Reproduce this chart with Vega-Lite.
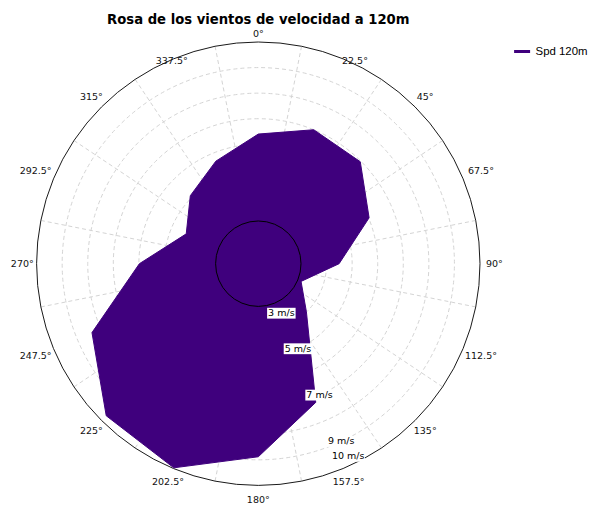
{
  "$schema": "https://vega.github.io/schema/vega-lite/v6.json",
  "autosize": {"type": "none"},
  "padding": {"left": 36.6, "top": 42, "right": 110, "bottom": 20.6},
  "width": 443.4,
  "height": 443.4,
  "background": "white",
  "config": {"view": {"stroke": null}},
  "title": {
    "text": "Rosa de los vientos de velocidad a 120m",
    "font": "DejaVu Sans",
    "fontSize": 13.2,
    "fontWeight": "bold",
    "color": "#000000",
    "anchor": "middle",
    "frame": "group",
    "baseline": "alphabetic",
    "offset": -8.7
  },
  "datasets": {
    "wind": [
      {"dir": 0, "spd": 6.40},
      {"dir": 22.5, "spd": 7.00},
      {"dir": 45, "spd": 6.97},
      {"dir": 67.5, "spd": 6.02},
      {"dir": 90, "spd": 4.49},
      {"dir": 112.5, "spd": 3.14},
      {"dir": 135, "spd": 3.99},
      {"dir": 157.5, "spd": 7.20},
      {"dir": 180, "spd": 8.88},
      {"dir": 202.5, "spd": 9.97},
      {"dir": 225, "spd": 9.74},
      {"dir": 247.5, "spd": 8.37},
      {"dir": 270, "spd": 5.98},
      {"dir": 292.5, "spd": 4.38},
      {"dir": 315, "spd": 5.09},
      {"dir": 337.5, "spd": 5.67}
    ],
    "rings": [{"v": 4}, {"v": 5}, {"v": 6}, {"v": 7}, {"v": 8}, {"v": 9}],
    "outer": [{"v": 10}],
    "inner": [{"v": 3}],
    "spokes": [
      {"a": 11.25}, {"a": 33.75}, {"a": 56.25}, {"a": 78.75},
      {"a": 101.25}, {"a": 123.75}, {"a": 146.25}, {"a": 168.75},
      {"a": 191.25}, {"a": 213.75}, {"a": 236.25}, {"a": 258.75},
      {"a": 281.25}, {"a": 303.75}, {"a": 326.25}, {"a": 348.75}
    ],
    "dirLabels": [
      {"dir": 0, "label": "0°"},
      {"dir": 22.5, "label": "22.5°"},
      {"dir": 45, "label": "45°"},
      {"dir": 67.5, "label": "67.5°"},
      {"dir": 90, "label": "90°"},
      {"dir": 112.5, "label": "112.5°"},
      {"dir": 135, "label": "135°"},
      {"dir": 157.5, "label": "157.5°"},
      {"dir": 180, "label": "180°"},
      {"dir": 202.5, "label": "202.5°"},
      {"dir": 225, "label": "225°"},
      {"dir": 247.5, "label": "247.5°"},
      {"dir": 270, "label": "270°"},
      {"dir": 292.5, "label": "292.5°"},
      {"dir": 315, "label": "315°"},
      {"dir": 337.5, "label": "337.5°"}
    ],
    "speedLabels": [
      {"v": 3, "label": "3 m/s"},
      {"v": 5, "label": "5 m/s"},
      {"v": 7, "label": "7 m/s"},
      {"v": 9, "label": "9 m/s"},
      {"v": 10, "label": "10 m/s"}
    ]
  },
  "layer": [
    {
      "data": {"name": "rings"},
      "mark": {"type": "arc", "filled": false, "stroke": "#d4d4d4", "strokeWidth": 1, "strokeDash": [4, 3]},
      "encoding": {
        "theta": {"datum": 360, "type": "quantitative", "stack": null, "scale": {"type": "linear", "domain": [0, 360], "range": [0, 6.2832], "zero": false, "nice": false}},
        "radius": {"field": "v", "type": "quantitative", "stack": null, "scale": {"type": "linear", "domain": [1.33, 10], "range": [0, 221.7], "zero": false, "nice": false}}
      }
    },
    {
      "data": {"name": "spokes"},
      "transform": [
        {"calculate": "8.67 * sin(datum.a * PI / 180)", "as": "ex"},
        {"calculate": "8.67 * cos(datum.a * PI / 180)", "as": "ey"}
      ],
      "mark": {"type": "rule", "stroke": "#d4d4d4", "strokeWidth": 1, "strokeDash": [4, 3]},
      "encoding": {
        "x": {"field": "ex", "type": "quantitative", "scale": {"domain": [-8.67, 8.67], "nice": false, "zero": false}, "axis": null},
        "y": {"field": "ey", "type": "quantitative", "scale": {"domain": [-8.67, 8.67], "nice": false, "zero": false}, "axis": null},
        "x2": {"datum": 0},
        "y2": {"datum": 0}
      }
    },
    {
      "data": {"name": "outer"},
      "mark": {"type": "arc", "filled": false, "stroke": "#1a1a1a", "strokeWidth": 1},
      "encoding": {
        "theta": {"datum": 360, "type": "quantitative", "stack": null, "scale": {"type": "linear", "domain": [0, 360], "range": [0, 6.2832], "zero": false, "nice": false}},
        "radius": {"field": "v", "type": "quantitative", "stack": null, "scale": {"type": "linear", "domain": [1.33, 10], "range": [0, 221.7], "zero": false, "nice": false}}
      }
    },
    {
      "data": {"name": "wind"},
      "transform": [
        {"calculate": "(datum.spd - 1.33) * sin(datum.dir * PI / 180)", "as": "px"},
        {"calculate": "(datum.spd - 1.33) * cos(datum.dir * PI / 180)", "as": "py"}
      ],
      "mark": {"type": "line", "interpolate": "linear-closed", "fill": "#3f007d", "fillOpacity": 1, "strokeWidth": 1},
      "encoding": {
        "x": {"field": "px", "type": "quantitative", "scale": {"domain": [-8.67, 8.67], "nice": false, "zero": false}, "axis": null},
        "y": {"field": "py", "type": "quantitative", "scale": {"domain": [-8.67, 8.67], "nice": false, "zero": false}, "axis": null},
        "order": {"field": "dir", "type": "quantitative"},
        "color": {
          "datum": "Spd 120m",
          "type": "nominal",
          "scale": {"range": ["#3f007d"]},
          "legend": {
            "title": null,
            "orient": "none",
            "legendX": 476,
            "legendY": 0,
            "padding": 0,
            "symbolType": "stroke",
            "symbolSize": 256,
            "symbolStrokeWidth": 3,
            "labelFont": "Liberation Sans",
            "labelFontSize": 11.4,
            "labelColor": "#000000",
            "labelOffset": 4
          }
        }
      }
    },
    {
      "data": {"name": "inner"},
      "mark": {"type": "arc", "filled": false, "stroke": "#000000", "strokeWidth": 1},
      "encoding": {
        "theta": {"datum": 360, "type": "quantitative", "stack": null, "scale": {"type": "linear", "domain": [0, 360], "range": [0, 6.2832], "zero": false, "nice": false}},
        "radius": {"field": "v", "type": "quantitative", "stack": null, "scale": {"type": "linear", "domain": [1.33, 10], "range": [0, 221.7], "zero": false, "nice": false}}
      }
    },
    {
      "data": {"name": "speedLabels"},
      "transform": [
        {"filter": "datum.v != 3 && datum.v != 10"},
        {"calculate": "(datum.v - 1.33) * sin(155 * PI / 180)", "as": "lx"},
        {"calculate": "(datum.v - 1.33) * cos(155 * PI / 180)", "as": "ly"}
      ],
      "layer": [
        {
          "mark": {"type": "point", "shape": "M-1,-0.38H1V0.38H-1Z", "size": 812, "filled": true, "fill": "#ffffff", "opacity": 1, "strokeWidth": 0},
          "encoding": {
            "x": {"field": "lx", "type": "quantitative", "axis": null},
            "y": {"field": "ly", "type": "quantitative", "axis": null}
          }
        },
        {
          "mark": {"type": "text", "font": "DejaVu Sans", "fontSize": 9.5, "color": "#000000", "align": "center", "baseline": "middle"},
          "encoding": {
            "x": {"field": "lx", "type": "quantitative", "axis": null},
            "y": {"field": "ly", "type": "quantitative", "axis": null},
            "text": {"field": "label"}
          }
        }
      ]
    },
    {
      "data": {"name": "speedLabels"},
      "transform": [
        {"filter": "datum.v == 3"},
        {"calculate": "(datum.v - 1.33) * sin(155 * PI / 180)", "as": "lx"},
        {"calculate": "(datum.v - 1.33) * cos(155 * PI / 180)", "as": "ly"}
      ],
      "layer": [
        {
          "mark": {"type": "point", "shape": "M-0.649,0.378H1.351V1.138H-0.649Z", "size": 812, "filled": true, "fill": "#ffffff", "opacity": 1, "strokeWidth": 0},
          "encoding": {
            "x": {"field": "lx", "type": "quantitative", "axis": null},
            "y": {"field": "ly", "type": "quantitative", "axis": null}
          }
        },
        {
          "mark": {"type": "text", "font": "DejaVu Sans", "fontSize": 9.5, "color": "#000000", "align": "center", "baseline": "middle", "dx": 5, "dy": 10.8},
          "encoding": {
            "x": {"field": "lx", "type": "quantitative", "axis": null},
            "y": {"field": "ly", "type": "quantitative", "axis": null},
            "text": {"field": "label"}
          }
        }
      ]
    },
    {
      "data": {"name": "speedLabels"},
      "transform": [
        {"filter": "datum.v == 10"},
        {"calculate": "(datum.v - 1.33) * sin(155 * PI / 180)", "as": "lx"},
        {"calculate": "(datum.v - 1.33) * cos(155 * PI / 180)", "as": "ly"}
      ],
      "layer": [
        {
          "mark": {"type": "point", "shape": "M-1.227,-0.812H0.773V-0.168H-1.227Z", "size": 1122, "filled": true, "fill": "#ffffff", "opacity": 1, "strokeWidth": 0},
          "encoding": {
            "x": {"field": "lx", "type": "quantitative", "axis": null},
            "y": {"field": "ly", "type": "quantitative", "axis": null}
          }
        },
        {
          "mark": {"type": "text", "font": "DejaVu Sans", "fontSize": 9.5, "color": "#000000", "align": "center", "baseline": "middle", "dx": -3.8, "dy": -8.2},
          "encoding": {
            "x": {"field": "lx", "type": "quantitative", "axis": null},
            "y": {"field": "ly", "type": "quantitative", "axis": null},
            "text": {"field": "label"}
          }
        }
      ]
    },
    {
      "data": {"name": "dirLabels"},
      "transform": [{"filter": "indexof([45, 90, 135, 157.5, 180, 202.5, 225, 270, 315], datum.dir) >= 0"}],
      "mark": {"type": "text", "font": "DejaVu Sans", "fontSize": 9.5, "color": "#111111", "align": "center", "baseline": "middle"},
      "encoding": {
        "theta": {"field": "dir", "type": "quantitative", "stack": null, "scale": {"type": "linear", "domain": [0, 360], "range": [0, 6.2832], "zero": false, "nice": false}},
        "radius": {"datum": 10.56, "type": "quantitative", "stack": null, "scale": {"type": "linear", "domain": [1.33, 10], "range": [0, 221.7], "zero": false, "nice": false}},
        "text": {"field": "label"}
      }
    },
    {
      "data": {"name": "dirLabels"},
      "transform": [{"filter": "indexof([67.5, 112.5, 247.5, 292.5], datum.dir) >= 0"}],
      "mark": {"type": "text", "font": "DejaVu Sans", "fontSize": 9.5, "color": "#111111", "align": "center", "baseline": "middle"},
      "encoding": {
        "theta": {"field": "dir", "type": "quantitative", "stack": null, "scale": {"type": "linear", "domain": [0, 360], "range": [0, 6.2832], "zero": false, "nice": false}},
        "radius": {"datum": 10.755, "type": "quantitative", "stack": null, "scale": {"type": "linear", "domain": [1.33, 10], "range": [0, 221.7], "zero": false, "nice": false}},
        "text": {"field": "label"}
      }
    },
    {
      "data": {"name": "dirLabels"},
      "transform": [{"filter": "datum.dir == 0"}],
      "mark": {"type": "text", "font": "DejaVu Sans", "fontSize": 9.5, "color": "#111111", "align": "center", "baseline": "middle"},
      "encoding": {
        "theta": {"field": "dir", "type": "quantitative", "stack": null, "scale": {"type": "linear", "domain": [0, 360], "range": [0, 6.2832], "zero": false, "nice": false}},
        "radius": {"datum": 10.325, "type": "quantitative", "stack": null, "scale": {"type": "linear", "domain": [1.33, 10], "range": [0, 221.7], "zero": false, "nice": false}},
        "text": {"field": "label"}
      }
    },
    {
      "data": {"name": "dirLabels"},
      "transform": [{"filter": "datum.dir == 22.5"}],
      "mark": {"type": "text", "font": "DejaVu Sans", "fontSize": 9.5, "color": "#111111", "align": "center", "baseline": "middle", "dx": 11.7, "dy": 2},
      "encoding": {
        "theta": {"field": "dir", "type": "quantitative", "stack": null, "scale": {"type": "linear", "domain": [0, 360], "range": [0, 6.2832], "zero": false, "nice": false}},
        "radius": {"datum": 10.012, "type": "quantitative", "stack": null, "scale": {"type": "linear", "domain": [1.33, 10], "range": [0, 221.7], "zero": false, "nice": false}},
        "text": {"field": "label"}
      }
    },
    {
      "data": {"name": "dirLabels"},
      "transform": [{"filter": "datum.dir == 337.5"}],
      "mark": {"type": "text", "font": "DejaVu Sans", "fontSize": 9.5, "color": "#111111", "align": "center", "baseline": "middle", "dx": -2, "dy": 1},
      "encoding": {
        "theta": {"field": "dir", "type": "quantitative", "stack": null, "scale": {"type": "linear", "domain": [0, 360], "range": [0, 6.2832], "zero": false, "nice": false}},
        "radius": {"datum": 9.973, "type": "quantitative", "stack": null, "scale": {"type": "linear", "domain": [1.33, 10], "range": [0, 221.7], "zero": false, "nice": false}},
        "text": {"field": "label"}
      }
    }
  ]
}
